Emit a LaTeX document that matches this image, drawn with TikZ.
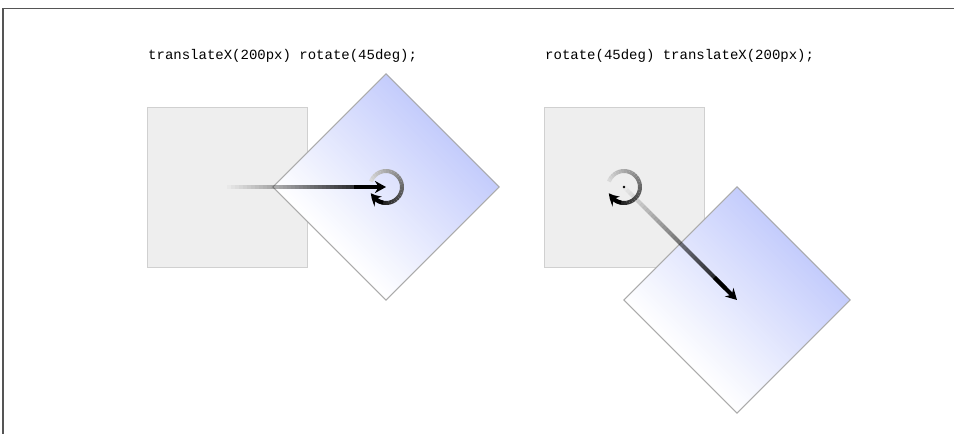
\documentclass[tikz,border=0pt]{standalone}
\usepackage{fontspec}
\newfontfamily\codefont{Liberation Mono}
\usetikzlibrary{calc}
\usetikzlibrary{arrows.meta,bending}
\definecolor{boxgray}{RGB}{238,238,238}
\definecolor{boxline}{RGB}{208,208,208}
\definecolor{paleblue}{RGB}{196,204,252}
\definecolor{frameline}{RGB}{85,85,85}
\tikzset{
  plainbox/.style={fill=boxgray, draw=boxline, line width=1},
  turnline/.style={draw=black!33, line width=1},
  code/.style={font=\codefont\fontsize{14}{16}\selectfont, inner sep=0, anchor=base west},
  shaft/.style={line width=4, line cap=butt},
  headline/.style={-{Stealth[length=11pt,width=12pt,bend]}, line width=4}
}

\begin{document}
\begin{tikzpicture}[x=1pt,y=1pt]
\useasboundingbox (0,0) rectangle (954,-434);
\draw[frameline, line width=1.5] (954,-8.5) -- (3,-8.5) -- (3,-434);
\node[code] (ltext) at (148,-59.5) {translateX(200px) rotate(45deg);};
\node[code] (rtext) at (545,-59.5) {rotate(45deg) translateX(200px);};
\coordinate (lc) at (227,-187);
\coordinate (ld) at (386,-187);
\coordinate (rc) at (624,-187);
\coordinate (rd) at (737,-300);
\path[plainbox] (147,-107) rectangle (307,-267);
\path[plainbox] (544,-107) rectangle (704,-267);
\foreach \c in {ld,rd} {
  \begin{scope}[shift={(\c)}, rotate=-45]
    \foreach \k [evaluate=\k as \p using \k*1.25] in {0,...,79} {
      \fill[paleblue!\p!white] (-80,-80+2*\k) rectangle (80,-77.4+2*\k);
    }
    \path[turnline] (-80,-80) rectangle (80,80);
  \end{scope}
}
\foreach \i [evaluate=\i as \o using \i/40] in {1,...,36} {
  \draw[shaft, opacity=\o] ($(lc)!{(\i-1)/40}!(ld)$) -- ($(lc)!{\i/40}!(ld)$);
}
\draw[headline] ($(lc)!.8!(ld)$) -- (ld);
\foreach \a [evaluate=\a as \g using {15+(160-\a)/3.5}] in {160,150,...,-120} {
  \draw[black!\g, line width=4] ($(ld)+(\a:16)$) arc[start angle=\a, end angle=\a-10, radius=16];
}
\draw[headline] ($(ld)+(-100:16)$) arc[start angle=-100, end angle=-158, radius=16];
\foreach \i [evaluate=\i as \o using \i/40] in {1,...,36} {
  \draw[shaft, opacity=\o] ($(rc)!{(\i-1)/40}!(rd)$) -- ($(rc)!{\i/40}!(rd)$);
}
\draw[headline] ($(rc)!.8!(rd)$) -- (rd);
\foreach \a [evaluate=\a as \g using {15+(160-\a)/3.5}] in {160,150,...,-120} {
  \draw[black!\g, line width=4] ($(rc)+(\a:16)$) arc[start angle=\a, end angle=\a-10, radius=16];
}
\draw[headline] ($(rc)+(-100:16)$) arc[start angle=-100, end angle=-158, radius=16];
\fill (rc) circle (1.3);
\end{tikzpicture}
\end{document}
